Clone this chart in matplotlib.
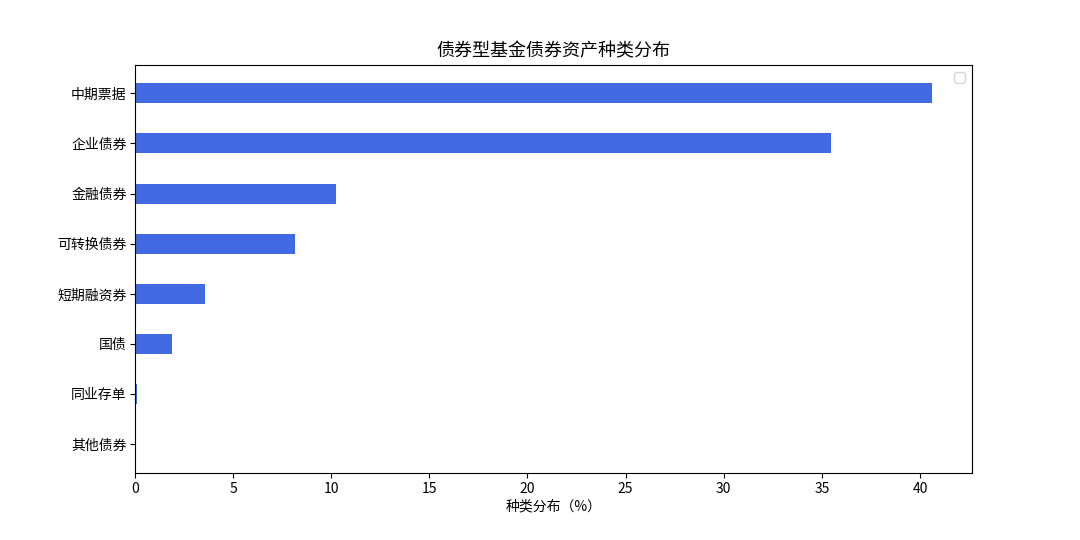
import matplotlib
matplotlib.use("Agg")
import matplotlib.pyplot as plt

plt.rcParams['font.family'] = ['Noto Sans CJK SC', 'DejaVu Sans']
plt.rcParams['axes.unicode_minus'] = False

# 债券资产种类及占比（%），从下到上
categories = ["其他债券", "同业存单", "国债", "短期融资券",
              "可转换债券", "金融债券", "企业债券", "中期票据"]
shares = [0.02, 0.1, 1.89, 3.57, 8.16, 10.25, 35.45, 40.62]

fig, ax = plt.subplots(figsize=(10.8, 5.4), dpi=100)
fig.subplots_adjust(left=0.125, right=0.9, top=0.88, bottom=0.125)

ax.barh(categories, shares, height=0.4, color="royalblue")
ax.set_title("债券型基金债券资产种类分布", fontsize=13)
ax.set_xlabel("种类分布（%）", fontsize=10, labelpad=2)
ax.tick_params(labelsize=10)
ax.tick_params(axis="y", pad=2.5)
ax.legend(loc="upper right")

plt.savefig("out.png")
